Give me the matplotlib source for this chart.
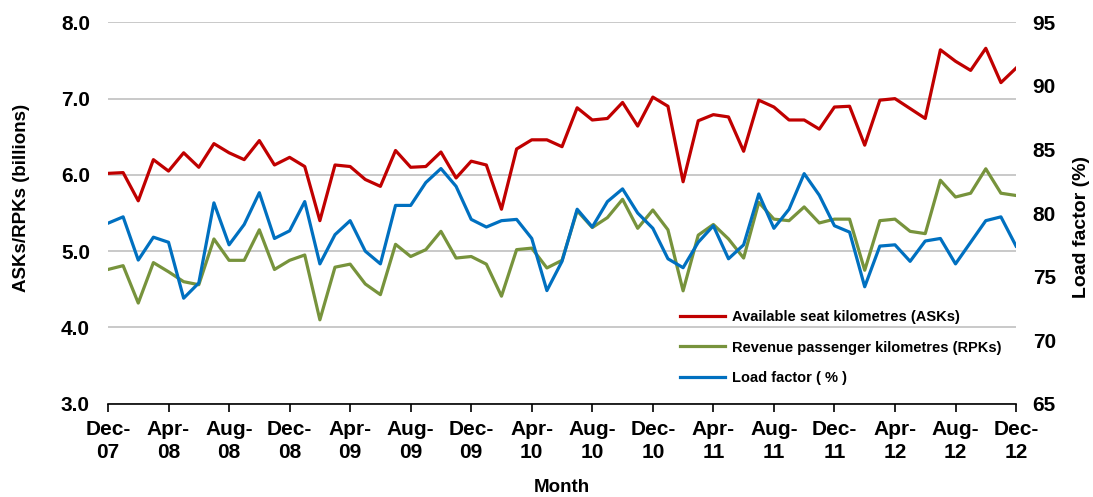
import numpy as np
import matplotlib.pyplot as plt

# monthly values, Dec-07 .. Dec-12
asks = [6.02, 6.03, 5.66, 6.20, 6.05, 6.29, 6.10, 6.41, 6.29, 6.20,
        6.45, 6.13, 6.23, 6.11, 5.40, 6.13, 6.11, 5.94, 5.85, 6.32,
        6.10, 6.11, 6.30, 5.96, 6.18, 6.13, 5.55, 6.34, 6.46, 6.46,
        6.37, 6.88, 6.72, 6.74, 6.95, 6.64, 7.02, 6.90, 5.91, 6.71,
        6.79, 6.76, 6.31, 6.98, 6.89, 6.72, 6.72, 6.60, 6.89, 6.90,
        6.39, 6.98, 7.00, 6.87, 6.74, 7.64, 7.49, 7.37, 7.66, 7.21,
        7.40]
rpks = [4.76, 4.81, 4.32, 4.85, 4.73, 4.60, 4.56, 5.16, 4.88, 4.88,
        5.28, 4.76, 4.88, 4.95, 4.10, 4.79, 4.83, 4.57, 4.43, 5.09,
        4.93, 5.02, 5.26, 4.91, 4.93, 4.83, 4.41, 5.02, 5.04, 4.78,
        4.88, 5.53, 5.31, 5.44, 5.68, 5.30, 5.54, 5.28, 4.48, 5.21,
        5.35, 5.16, 4.91, 5.64, 5.42, 5.40, 5.58, 5.37, 5.42, 5.42,
        4.75, 5.40, 5.42, 5.26, 5.23, 5.93, 5.71, 5.76, 6.08, 5.76,
        5.73]
load_factor = [79.2, 79.7, 76.3, 78.1, 77.7, 73.3, 74.5, 80.8, 77.5, 79.1,
               81.6, 78.0, 78.6, 80.9, 76.0, 78.3, 79.4, 77.0, 76.0, 80.6,
               80.6, 82.4, 83.5, 82.1, 79.5, 78.9, 79.4, 79.5, 78.0, 73.9,
               76.2, 80.3, 78.9, 80.9, 81.9, 80.0, 78.8, 76.4, 75.7, 77.7,
               79.0, 76.4, 77.5, 81.5, 78.8, 80.3, 83.1, 81.4, 79.0, 78.5,
               74.2, 77.4, 77.5, 76.2, 77.8, 78.0, 76.0, 77.7, 79.4, 79.7,
               77.4]
tick_labels = ['Dec-\n07', 'Apr-\n08', 'Aug-\n08', 'Dec-\n08', 'Apr-\n09', 'Aug-\n09',
               'Dec-\n09', 'Apr-\n10', 'Aug-\n10', 'Dec-\n10', 'Apr-\n11', 'Aug-\n11',
               'Dec-\n11', 'Apr-\n12', 'Aug-\n12', 'Dec-\n12']

plt.rcParams['font.family'] = ['Liberation Sans', 'DejaVu Sans']

x = np.arange(len(asks))

fig = plt.figure(figsize=(10.93, 4.97), dpi=100)
ax = fig.add_axes([0.0988, 0.1877, 0.8308, 0.7673])
ax2 = ax.twinx()

l1, = ax.plot(x, asks, color='#C00000', lw=2.3, label='Available seat kilometres (ASKs)')
l2, = ax.plot(x, rpks, color='#77933C', lw=2.3, label='Revenue passenger kilometres (RPKs)')
l3, = ax2.plot(x, load_factor, color='#0070C0', lw=2.3, label='Load factor ( % )')

ax.set_ylim(3, 8)
ax.set_yticks(np.arange(3, 8.01, 1.0))
ax.set_yticklabels([f'{v:.1f}' for v in np.arange(3, 8.01, 1.0)])
ax2.set_ylim(65, 95)
ax2.set_yticks(np.arange(65, 96, 5))
ax.set_xlim(0, len(asks) - 1)
ax.set_xticks(x[::4])
ax.set_xticklabels(tick_labels, linespacing=1.25)

ax.grid(axis='y', color='#c0c0c0', lw=1.2)
ax.set_axisbelow(True)
for a in (ax, ax2):
    for s in ('left', 'right', 'top'):
        a.spines[s].set_visible(False)
ax.spines['bottom'].set_color('black')
ax.spines['bottom'].set_linewidth(1.2)
ax2.spines['bottom'].set_visible(False)

ax.tick_params(axis='y', length=0, pad=13, labelsize=15)
ax2.tick_params(axis='y', length=0, pad=12, labelsize=15)
ax.tick_params(axis='x', length=6, width=1.2, direction='out', labelsize=15, pad=6)
for lab in ax.get_xticklabels() + ax.get_yticklabels() + ax2.get_yticklabels():
    lab.set_fontweight('bold')

ax.set_ylabel('ASKs/RPKs (billions)', fontsize=13.5, fontweight='bold')
ax.yaxis.set_label_coords(-0.086, 0.54)
ax2.set_ylabel('Load factor (%)', fontsize=14, fontweight='bold')
ax2.yaxis.set_label_coords(1.063, 0.463)
ax.set_xlabel('Month', fontsize=13.5, fontweight='bold')
ax.xaxis.set_label_coords(0.5, -0.198)

leg = ax.legend(handles=[l1, l2, l3], loc='lower left', bbox_to_anchor=(0.615, 0.015),
                frameon=False, handlelength=3.1, handletextpad=0.5,
                labelspacing=1.12, prop={'weight': 'bold', 'size': 10.5})

fig.savefig('out.png', dpi=100)
